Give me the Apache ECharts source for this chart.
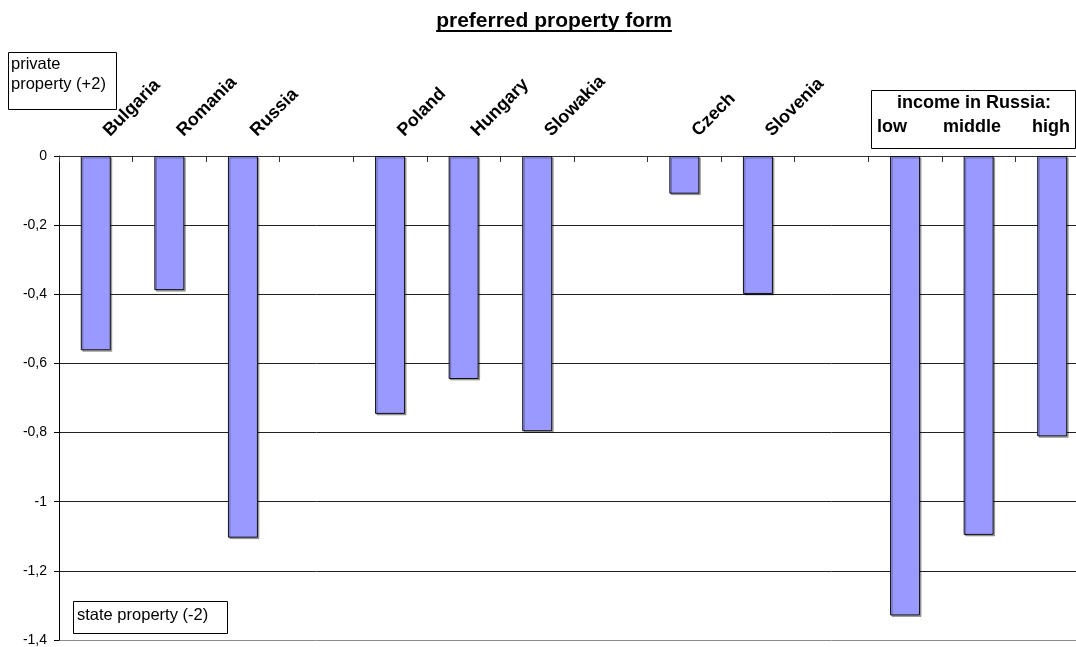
<!DOCTYPE html>
<html>
<head>
<meta charset="utf-8">
<script src="https://cdn.jsdelivr.net/npm/echarts@6/dist/echarts.min.js"></script>
<style>
html,body{margin:0;padding:0;background:#fff;overflow:hidden;width:1076px;height:647px;}
#chart{width:1090px;height:647px;}
</style>
</head>
<body>
<div id="chart"></div>
<script>
const titleText = 'preferred property form';
const countries = ['Bulgaria','Romania','Russia','','Poland','Hungary','Slowakia','','Czech','Slovenia',''];
const incomeGroups = ['low','middle','high'];
const incomeTitle = 'income in Russia:';
const categories = countries.concat(incomeGroups);
const values = [-0.562,-0.388,-1.104,null,-0.746,-0.645,-0.796,null,-0.109,-0.399,null,-1.329,-1.096,-0.811];
const topNote = ['private', 'property (+2)'];
const bottomNote = 'state property (-2)';

const FONT = '"Liberation Sans", Arial, sans-serif';
const chart = echarts.init(document.getElementById('chart'), null, {renderer:'canvas'});

const ctx = document.createElement('canvas').getContext('2d');
ctx.font = 'bold 21px ' + FONT;
const tw = ctx.measureText(titleText).width;
const cx = 554;

const option = {
  animation: false,
  backgroundColor: '#ffffff',
  grid: {left: 59, top: 156, right: 1, bottom: 7, containLabel: false},
  xAxis: {
    type: 'category',
    position: 'top',
    data: categories,
    boundaryGap: true,
    axisLine: {show: true, lineStyle: {color: '#333', width: 1}},
    axisTick: {show: true, inside: true, length: 6, interval: 0, lineStyle: {color: '#333'}},
    axisLabel: {
      interval: 0,
      rotate: 45,
      margin: 12,
      padding: [0, 0, 0, 15],
      color: '#000',
      fontFamily: FONT,
      fontWeight: 'bold',
      fontSize: 18,
      formatter: function (v, i) { return i >= countries.length ? '' : v; }
    },
    splitLine: {show: false}
  },
  yAxis: {
    type: 'value',
    min: -1.4,
    max: 0,
    interval: 0.2,
    axisLine: {show: true, lineStyle: {color: '#000', width: 1}},
    axisTick: {show: true, length: 5, lineStyle: {color: '#000'}},
    axisLabel: {
      color: '#000',
      fontFamily: FONT,
      fontSize: 14,
      margin: 12,
      formatter: function (v) {
        const r = Math.round(v * 10) / 10;
        return r === 0 ? '0' : String(r).replace('.', ',');
      }
    },
    splitLine: {show: true, lineStyle: {color: ['#8c8c8c','#222','#222','#222','#222','#222','#222','#333'], width: 1}}
  },
  series: [{
    type: 'bar',
    data: values,
    barWidth: 30,
    itemStyle: {
      color: '#9999FF',
      borderColor: '#111',
      borderWidth: 1,
      shadowColor: 'rgba(0,0,0,0.3)',
      shadowOffsetX: 1.5,
      shadowOffsetY: 1.5,
      shadowBlur: 0
    }
  }],
  graphic: [
    {type: 'text', x: cx, y: 11, style: {text: titleText, font: 'bold 21px ' + FONT, fill: '#000', textAlign: 'center'}},
    {type: 'line', shape: {x1: cx - tw / 2, y1: 31, x2: cx + tw / 2, y2: 31}, style: {stroke: '#000', lineWidth: 2}},
    {type: 'rect', shape: {x: 8.5, y: 52.5, width: 108, height: 57}, style: {fill: '#fff', stroke: '#000', lineWidth: 1}},
    {type: 'text', x: 11, y: 54, style: {text: topNote.join('\n'), font: '16.5px ' + FONT, fill: '#000', lineHeight: 20}},
    {type: 'rect', shape: {x: 73.5, y: 601.5, width: 154, height: 32}, style: {fill: '#fff', stroke: '#000', lineWidth: 1}},
    {type: 'text', x: 77, y: 607, style: {text: bottomNote, font: '16.5px ' + FONT, fill: '#000'}},
    {type: 'rect', shape: {x: 871.5, y: 90.5, width: 204, height: 58}, style: {fill: '#fff', stroke: '#000', lineWidth: 1}},
    {type: 'text', x: 974, y: 94, style: {text: incomeTitle, font: 'bold 18px ' + FONT, fill: '#000', textAlign: 'center'}},
    {type: 'text', x: 877, y: 118, style: {text: incomeGroups[0], font: 'bold 18px ' + FONT, fill: '#000'}},
    {type: 'text', x: 943, y: 118, style: {text: incomeGroups[1], font: 'bold 18px ' + FONT, fill: '#000'}},
    {type: 'text', x: 1032, y: 118, style: {text: incomeGroups[2], font: 'bold 18px ' + FONT, fill: '#000'}}
  ]
};
chart.setOption(option);
</script>
</body>
</html>
